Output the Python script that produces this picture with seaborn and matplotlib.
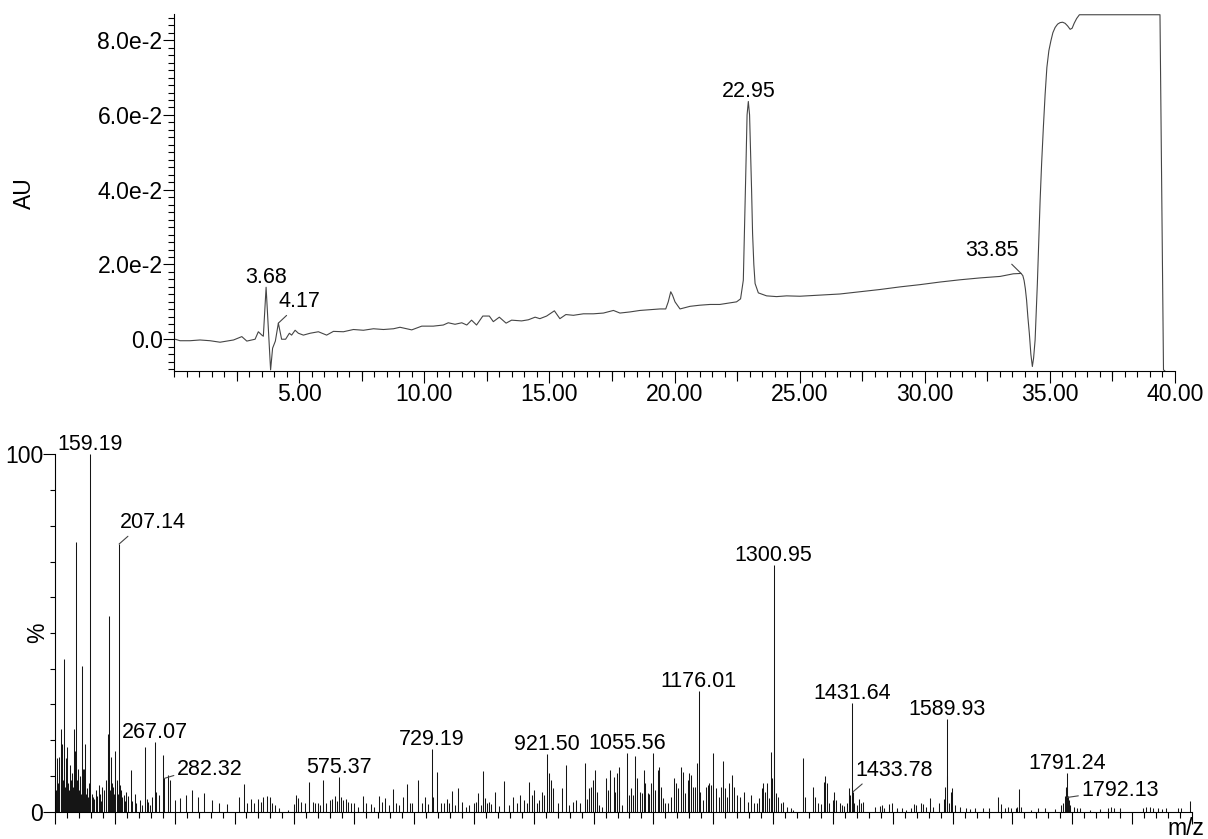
import numpy as np
import matplotlib
matplotlib.use("Agg")
import matplotlib.pyplot as plt
import seaborn as sns
from matplotlib.ticker import MultipleLocator, NullLocator, NullFormatter

# ---------------- UV chromatogram trace ----------------
rt_min = [0.05, 0.24, 0.64, 1.04, 1.44, 1.84, 2.38, 2.71, 2.91, 3.24,
          3.37, 3.51, 3.57, 3.68, 3.79, 3.86, 3.94, 4.05, 4.17, 4.30,
          4.46, 4.61, 4.70, 4.84, 4.97, 5.17, 5.44, 5.77, 6.10, 6.37,
          6.77, 7.17, 7.57, 7.97, 8.37, 8.77, 9.03, 9.50, 9.90, 10.36,
          10.76, 10.96, 11.23, 11.50, 11.70, 11.89, 12.09, 12.34, 12.60, 12.76,
          13.00, 13.27, 13.49, 13.89, 14.16, 14.43, 14.62, 14.89, 15.20, 15.42,
          15.66, 15.96, 16.36, 16.76, 17.16, 17.56, 17.82, 18.22, 18.62, 19.02,
          19.42, 19.65, 19.75, 19.85, 19.92, 20.02, 20.22, 20.62, 21.01, 21.42,
          21.81, 22.21, 22.48, 22.64, 22.75, 22.80, 22.86, 22.90, 22.95, 23.00,
          23.04, 23.08, 23.12, 23.17, 23.22, 23.35, 23.68, 24.08, 24.48, 25.01,
          25.81, 26.61, 27.41, 28.21, 29.01, 29.81, 30.61, 31.41, 32.21, 33.01,
          33.54, 33.85, 33.92, 33.97, 34.02, 34.07, 34.12, 34.18, 34.24, 34.30,
          34.35, 34.41, 34.50, 34.55, 34.61, 34.67, 34.74, 34.81, 34.88, 34.96,
          35.04, 35.12, 35.21, 35.31, 35.41, 35.51, 35.61, 35.71, 35.81, 35.89,
          35.97, 36.07, 36.18, 39.40, 39.54, 39.60]
absorbance = [0.0000, -0.0004, -0.0004, -0.0002, -0.0004, -0.0008, -0.0002, 0.0007, -0.0005, 0.0000,
              0.0020, 0.0011, 0.0008, 0.0139, 0.0007, -0.0082, -0.0024, -0.0005, 0.0043, 0.0000,
              0.0000, 0.0016, 0.0011, 0.0024, 0.0016, 0.0011, 0.0016, 0.0020, 0.0011, 0.0021,
              0.0020, 0.0026, 0.0024, 0.0028, 0.0026, 0.0028, 0.0032, 0.0025, 0.0035, 0.0035,
              0.0038, 0.0044, 0.0040, 0.0044, 0.0038, 0.0051, 0.0038, 0.0062, 0.0062, 0.0047,
              0.0059, 0.0043, 0.0051, 0.0049, 0.0052, 0.0059, 0.0055, 0.0062, 0.0076, 0.0055,
              0.0066, 0.0064, 0.0068, 0.0068, 0.0070, 0.0077, 0.0070, 0.0073, 0.0077, 0.0079,
              0.0081, 0.0081, 0.0100, 0.0127, 0.0118, 0.0100, 0.0081, 0.0088, 0.0091, 0.0093,
              0.0093, 0.0097, 0.0100, 0.0108, 0.0158, 0.0300, 0.0478, 0.0600, 0.0636, 0.0600,
              0.0505, 0.0400, 0.0283, 0.0200, 0.0149, 0.0124, 0.0116, 0.0114, 0.0116, 0.0115,
              0.0118, 0.0121, 0.0127, 0.0133, 0.0140, 0.0146, 0.0153, 0.0159, 0.0164, 0.0168,
              0.0175, 0.0176, 0.0170, 0.0157, 0.0135, 0.0104, 0.0060, 0.0015, -0.0040, -0.0073,
              -0.0050, -0.0002, 0.0149, 0.0250, 0.0371, 0.0470, 0.0567, 0.0655, 0.0727, 0.0772,
              0.0798, 0.0820, 0.0834, 0.0843, 0.0847, 0.0848, 0.0845, 0.0838, 0.0829, 0.0832,
              0.0845, 0.0858, 0.0868, 0.0868, -0.0082, -0.0085]

# retention times that carry a label
rt_labels = [3.68, 4.17, 22.95, 33.85]
au_ticks = [0.0, 0.02, 0.04, 0.06, 0.08]
au_tick_labels = ["0.0", "2.0e-2", "4.0e-2", "6.0e-2", "8.0e-2"]
rt_ticks = [5, 10, 15, 20, 25, 30, 35, 40]
rt_tick_labels = ["5.00", "10.00", "15.00", "20.00", "25.00", "30.00", "35.00", "40.00"]

# ---------------- mass spectrum (relative abundance, %) ----------------
mz_low = [100, 101, 103.4, 104.5, 106, 107, 109.5, 111, 112.3, 113.5,
          115.6, 117, 118, 119, 120.6, 121.5, 123, 124.5, 126, 127,
          128, 129.5, 132, 133.5, 134.5, 135.7, 137, 138.5, 139.5, 141,
          142.4, 143.5, 145.7, 146.5, 147.5, 148, 149, 150.2, 152, 153.5,
          155, 157, 161, 163.6, 165, 168, 170, 173.6, 175, 177,
          179, 182, 184.7, 186, 188, 189, 190.9, 192, 193.7, 195,
          197, 199, 201, 203, 205, 208.5, 210, 212, 214.8, 217,
          219.3, 222, 226.5, 229, 233.8, 236, 241.6, 245, 250, 253,
          255.5, 259, 262.8, 269.5, 274, 280.6, 289.5, 291.7, 300.7, 308.5,
          318.5, 329.6, 339.7, 349, 363, 374, 388, 407.7]
int_low = [8.9, 6, 15, 8, 10, 15.4, 23, 12, 19, 9,
           42.6, 7, 15, 11, 18, 8, 6, 13, 9, 5,
           10.7, 7, 23, 17, 13, 75.4, 9, 12, 6, 10,
           8, 5, 40.8, 12, 9, 12, 7, 19, 5, 6.5,
           4, 8, 5, 4.2, 3.5, 6, 4.5, 7.5, 5, 3,
           7, 6, 8, 9, 21.7, 11, 54.8, 6, 15.4, 8,
           7, 5, 17, 9, 5, 7.5, 6, 4, 4.7, 3,
           5.6, 4.5, 11.7, 3, 5, 2.5, 3.3, 2, 18, 3.5,
           2.8, 2, 4.2, 5.6, 4.7, 15.9, 10.3, 9, 3.3, 3.7,
           4.7, 6, 4.2, 5.1, 3.3, 2.3, 2.1, 4.2]

mz_mid = [416, 421.5, 427, 432.7, 440, 444, 448.3, 455, 459, 462.2,
          467.8, 474.5, 490, 499.6, 503.5, 506.8, 510.7, 518, 525.2, 531.3,
          534.7, 540.2, 543, 547.5, 553.6, 559.2, 563.6, 568, 570.9, 578,
          582, 586, 590, 595, 600, 607, 615, 620.5, 627.7, 633.3,
          640.6, 646, 651.7, 658.4, 664.5, 670.6, 675, 680.7, 688, 693,
          697.4, 707.4, 713, 717.5, 722.5, 732, 738.7, 744.8, 750.4, 754.3,
          757.6, 763.2, 768.8, 772.7, 779.4, 786.6, 792.2, 799.4, 803.3, 806.1,
          811.7, 815.6, 818.4, 821.7, 825.6, 829, 835.6, 842.3, 850.7, 857.9,
          864.6, 871.3, 876.9, 884.1, 889.2, 892.5, 896.9, 900.9, 904.8, 909.2,
          913.1, 917.6, 924.8, 928.7, 932.6, 939.9, 947.1, 953.8, 959.4, 966,
          970.5, 977.2, 985, 989, 992.8, 995.6, 998.4, 1002.3, 1005, 1009.5,
          1014, 1020.7, 1024.6, 1028, 1033.5, 1036.3, 1039.1, 1041.8, 1043, 1047.4]
int_mid = [7.7, 2.3, 3.5, 2.5, 3.5, 2.8, 4, 4.4, 4, 2.3,
           1.9, 0.9, 0.5, 2.1, 4.7, 3.7, 2.8, 2.3, 8.2, 2.8,
           2.5, 2.5, 1.9, 8.9, 2.3, 3.3, 3.5, 4.4, 3.1, 4.2,
           3.3, 3.5, 2.8, 2.5, 2.3, 1.4, 4.4, 2.5, 2.1, 1.4,
           4.4, 2.8, 3.7, 1.9, 6.3, 2.5, 1.9, 4.2, 7.7, 2.5,
           2.3, 8.9, 2.5, 4.2, 2.1, 4.2, 11.2, 2.3, 2.5, 3.5,
           2.5, 5.9, 1.9, 6.5, 2.8, 1.4, 1.9, 2.3, 2.8, 5.3,
           1.9, 11.4, 3.7, 2.3, 2.8, 2.1, 5.6, 1.6, 8.6, 1.9,
           4.2, 2.3, 4.7, 3.3, 2.5, 8.4, 4.7, 6.1, 2.3, 3.3,
           5.6, 4.7, 10.7, 9, 6.5, 2.3, 6.5, 13, 1.9, 2.8,
           3.3, 2.5, 13.7, 3.5, 6.5, 7, 8.9, 11.7, 5.6, 1.9,
           1.4, 9.3, 6.1, 11.7, 9.6, 5.6, 10.7, 5.8, 12.6, 1.9]

mz_upper = [1058.6, 1062.5, 1065.8, 1069.8, 1073.1, 1077.6, 1080.9, 1084.2, 1086.5, 1090.4,
            1093.2, 1096.5, 1099.3, 1103.2, 1107.6, 1109.9, 1113.2, 1116.6, 1119.9, 1123.8,
            1129.4, 1133.8, 1137.7, 1141.1, 1145.5, 1148.9, 1153.3, 1157.2, 1160, 1162.8,
            1165.6, 1170.1, 1172.3, 1177.9, 1182.3, 1187.9, 1190.7, 1193.5, 1196.3, 1199,
            1204.6, 1209, 1213, 1216.9, 1219.7, 1222.4, 1226.9, 1230.8, 1235.3, 1239.7,
            1244.7, 1252, 1257.6, 1263.1, 1268.7, 1273.2, 1277.1, 1281.5, 1283.7, 1287.1,
            1289.9, 1292.7, 1296.6, 1298.8, 1301.8, 1305, 1308.3, 1313.3, 1316, 1322.8,
            1330, 1332.8, 1350.6, 1354, 1366.2]
int_upper = [4.7, 6.5, 4.7, 15.6, 9.3, 5.6, 5.3, 11.7, 7.9, 5.1,
             4.9, 7.9, 16.3, 6.1, 11.7, 12.4, 7, 3.7, 2.3, 2.5,
             4.2, 9.3, 7.9, 6.5, 12.6, 11.2, 5.1, 8.9, 10.9, 10.3,
             7, 7, 13.5, 5.6, 3.3, 7, 7.5, 7.9, 7.5, 16.5,
             6.5, 4.2, 7, 14.3, 6.5, 4.2, 7.9, 10.3, 7, 4.7,
             4.2, 5.6, 2.8, 4.7, 2.3, 2.5, 3.7, 6.5, 7.9, 5.6,
             7.9, 3.7, 16.8, 9.3, 22.9, 5.1, 4.2, 2.3, 2.8, 1.4,
             0.9, 0.5, 14.9, 4.2, 7]

mz_high = [1370.7, 1374.6, 1380.2, 1385.2, 1387.5, 1390.2, 1393, 1399.7, 1402.5, 1405.3,
           1412.5, 1415.3, 1419.2, 1423.1, 1426.5, 1428.7, 1436, 1439.8, 1443.2, 1447.1,
           1449.9, 1471, 1478.9, 1482.2, 1486.1, 1494.5, 1498.9, 1506.7, 1515.6, 1522.3,
           1530.7, 1536.2, 1539, 1547.4, 1551.3, 1555.8, 1563, 1568, 1578, 1585.3,
           1588, 1591.4, 1593.7, 1597, 1599.2, 1603.7, 1611.5, 1622.6, 1628.2, 1636.6,
           1650.5, 1661.6, 1675.6, 1681.1, 1686.8, 1692.3, 1697.9, 1705.2, 1708, 1710.7,
           1713.5, 1731.3, 1742.5, 1753.6, 1770.4, 1781.5, 1784.3, 1787.1, 1788.7, 1789.8,
           1790.5, 1793, 1794, 1796.5, 1802.1, 1807.7, 1812.2, 1828.9, 1845.6, 1859.5,
           1865.1, 1869, 1879, 1918, 1922.5, 1929.2, 1934.8, 1943.1, 1950.4, 1957,
           1976.6, 1982.1, 1996]
int_high = [4.2, 2.3, 2.1, 8.4, 10, 7.9, 2.3, 3.3, 5.6, 3.3,
            2.3, 1.9, 1.6, 2.3, 6.5, 4.7, 2.5, 1.9, 3.5, 2.3,
            2.8, 1.4, 1.6, 1.9, 0.9, 2.1, 2.5, 0.9, 0.9, 0.5,
            0.9, 2.1, 1.9, 2.5, 2.1, 1.4, 3.7, 1.4, 2.3, 3.5,
            7, 10, 2.3, 5.6, 6.5, 1.9, 1.4, 0.9, 0.7, 0.9,
            0.9, 0.9, 4, 2.1, 0.9, 1.4, 0.9, 0.9, 1.4, 6.3,
            1.4, 0.5, 0.9, 0.9, 0.7, 1.9, 2.3, 4.5, 6.5, 6.8,
            6.5, 4.5, 3.3, 1.9, 1.4, 0.9, 0.9, 0.5, 0.7, 0.9,
            1.4, 0.9, 0.9, 0.9, 1.4, 1.4, 0.9, 0.9, 0.7, 0.9,
            0.9, 0.9, 3.1]

# annotated ions
labeled_mz = [159.19, 207.14, 267.07, 282.32, 575.37, 729.19, 921.50, 1055.56,
              1176.01, 1300.95, 1431.64, 1433.78, 1589.93, 1791.24, 1792.13]
labeled_int = [100.0, 74.9, 19.4, 9.3, 9.8, 17.5, 16.1, 16.5,
               33.9, 69.0, 30.5, 5.6, 25.9, 10.7, 4.0]

# ---------------- styling ----------------
sns.set_theme(style="ticks")
plt.rcParams["font.family"] = ["Liberation Sans", "DejaVu Sans"]
plt.rcParams["axes.linewidth"] = 0.8
plt.rcParams["axes.edgecolor"] = "black"
plt.rcParams["xtick.color"] = "black"
plt.rcParams["ytick.color"] = "black"

W, H = 1208, 839
fig = plt.figure(figsize=(W / 100, H / 100), dpi=100)
fig.patch.set_facecolor("white")

LABEL_FS = 15.5
TICK_FS = 16.6


def px_rect(left, top, right, bottom):
    return [left / W, 1 - bottom / H, (right - left) / W, (bottom - top) / H]


def label_peak(ax, x, y, text, dx, dy, ha="center", relpos=None):
    kw = {}
    if relpos is not None:
        kw["arrowprops"] = dict(arrowstyle="-", color="#444444", lw=0.8,
                                shrinkA=0, shrinkB=0, relpos=relpos)
    ax.annotate(text, xy=(x, y), xytext=(dx, dy), textcoords="offset pixels",
                ha=ha, va="baseline", fontsize=LABEL_FS, color="black",
                annotation_clip=False, **kw)


# ---------------- top panel: chromatogram ----------------
ax1 = fig.add_axes(px_rect(174, 14, 1175, 371))
sns.lineplot(x=rt_min, y=absorbance, ax=ax1, color="#454545", linewidth=0.8,
             estimator=None, sort=False)
ax1.set_xlim(0, 40)
ax1.set_ylim(-0.0085, 0.0870)
ax1.set_facecolor("white")
for side in ("top", "right"):
    ax1.spines[side].set_visible(False)
ax1.set_xticks(rt_ticks, labels=rt_tick_labels)
ax1.set_yticks(au_ticks, labels=au_tick_labels)
ax1.xaxis.set_minor_locator(MultipleLocator(0.5))
ax1.yaxis.set_minor_locator(MultipleLocator(0.002))
ax1.tick_params(axis="x", which="major", length=8.6, width=0.8, labelsize=TICK_FS, pad=0)
ax1.tick_params(axis="x", which="minor", length=4.3, width=0.8)
ax1.tick_params(axis="y", which="major", length=7.7, width=0.8, labelsize=TICK_FS, pad=0.5)
ax1.tick_params(axis="y", which="minor", length=4.1, width=0.8)
ax1.set_xlabel("")
ax1.set_ylabel("")

# intermediate ticks every 2.5 min
sec = ax1.secondary_xaxis("bottom")
sec.set_xticks(np.arange(2.5, 40, 5))
sec.xaxis.set_major_formatter(NullFormatter())
sec.xaxis.set_minor_locator(NullLocator())
sec.tick_params(length=7.2, width=0.8)
sec.spines["bottom"].set_visible(False)

rt_arr = np.array(rt_min)
au_arr = np.array(absorbance)
rt_label_style = {
    3.68: dict(dx=0, dy=4.5, ha="center", relpos=None),
    4.17: dict(dx=0, dy=16, ha="left", relpos=(0.28, 0.0)),
    22.95: dict(dx=0, dy=4.5, ha="center", relpos=None),
    33.85: dict(dx=-2, dy=17.5, ha="right", relpos=(0.8, 0.0)),
}
for rt in rt_labels:
    au = au_arr[np.argmin(np.abs(rt_arr - rt))]
    st = rt_label_style[rt]
    label_peak(ax1, rt, au, f"{rt:.2f}", st["dx"], st["dy"], st["ha"], st["relpos"])

fig.text(24.5 / W, 1 - 193.5 / H, "AU", rotation=90, ha="center", va="center",
         fontsize=16.5, color="black")

# ---------------- bottom panel: mass spectrum ----------------
ax2 = fig.add_axes(px_rect(55, 454.3, 1192, 811.7))
ax2.set_facecolor("white")
for mzs, ints in ((mz_low, int_low), (mz_mid, int_mid),
                  (mz_upper, int_upper), (mz_high, int_high),
                  (labeled_mz, labeled_int)):
    ax2.vlines(mzs, 0, ints, colors="#151515", linewidth=0.75)
ax2.set_xlim(100, 2000)
ax2.set_ylim(0, 100)
for side in ("top", "right"):
    ax2.spines[side].set_visible(False)
ax2.set_yticks([0, 100], labels=["0", "100"])
ax2.yaxis.set_minor_locator(MultipleLocator(10))
ax2.xaxis.set_major_locator(MultipleLocator(100))
ax2.xaxis.set_minor_locator(MultipleLocator(20))
ax2.xaxis.set_major_formatter(NullFormatter())
ax2.tick_params(axis="y", which="major", length=8.6, width=0.8, labelsize=TICK_FS, pad=0)
ax2.tick_params(axis="y", which="minor", length=3.6, width=0.8)
ax2.tick_params(axis="x", which="major", length=8.4, width=0.8)
ax2.tick_params(axis="x", which="minor", length=4.6, width=0.8)

mz_label_style = {
    207.14: dict(dx=1, dy=16, ha="left", relpos=(0.175, 0.0)),
    282.32: dict(dx=13, dy=3.7, ha="left", relpos=(0.0, 0.25)),
    1433.78: dict(dx=2, dy=16, ha="left", relpos=(0.14, 0.0)),
    1792.13: dict(dx=14, dy=1.8, ha="left", relpos=(0.0, 0.25)),
}
for m, inten in zip(labeled_mz, labeled_int):
    st = mz_label_style.get(m, dict(dx=0, dy=4, ha="center", relpos=None))
    label_peak(ax2, m, inten, f"{m:.2f}", st["dx"], st["dy"], st["ha"], st["relpos"])

fig.text(37.5 / W, 1 - 633 / H, "%", rotation=90, ha="center", va="center",
         fontsize=16.5, color="black")
fig.text(1186 / W, 1 - 835 / H, "m/z", ha="center", va="baseline",
         fontsize=16.5, color="black")

fig.savefig("out.png", dpi=100, facecolor="white")
